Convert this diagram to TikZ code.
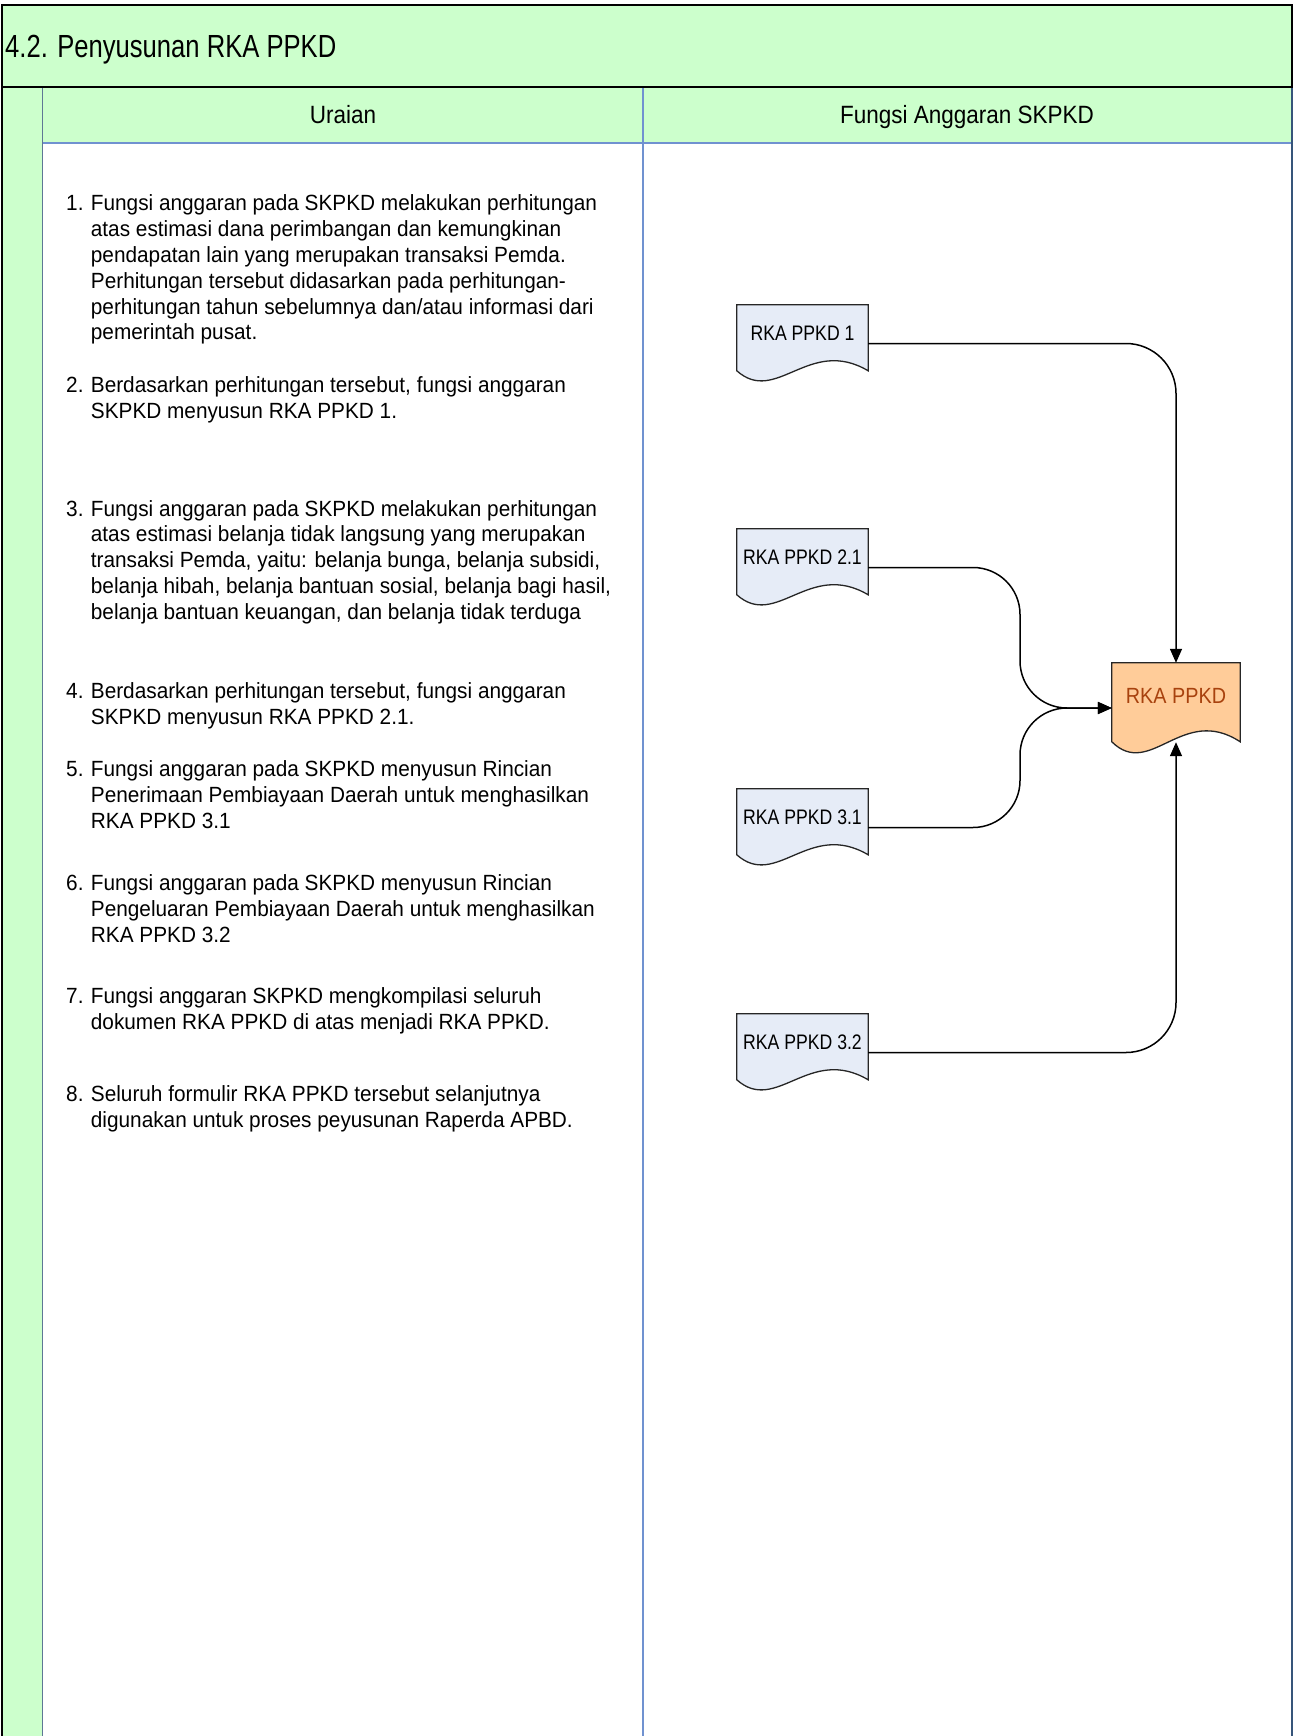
\documentclass[tikz,border=0pt]{standalone}
\usepackage{fontspec}
\setmainfont{Liberation Sans}
\newfontfamily\titlefont[FakeStretch=0.8]{Liberation Sans}
\newfontfamily\headfont[FakeStretch=0.9]{Liberation Sans}
\newfontfamily\bodyfont[FakeStretch=0.945]{Liberation Sans}
\newfontfamily\docfont[FakeStretch=0.84]{Liberation Sans}
\newfontfamily\outfont[FakeStretch=0.9]{Liberation Sans}
\usetikzlibrary{arrows.meta,calc}
\definecolor{lanegreen}{HTML}{CCFFCC}
\definecolor{docblue}{HTML}{E6ECF7}
\definecolor{docorange}{HTML}{FFCC99}
\definecolor{orangetext}{HTML}{A8420E}
\definecolor{laneblue}{HTML}{7092D0}
\definecolor{lanedark}{HTML}{36557A}
\pgfdeclarelayer{bg}
\pgfdeclarelayer{docs}
\pgfsetlayers{bg,docs,main}
\newcommand\drawdoc[4]{%
  \begin{pgfonlayer}{docs}
  \path[draw=black!85, line width=1.3pt, fill=#2]
    (#1.north west) -- (#1.north east) -- ($(#1.north east)+(0pt,-#3)$)
    .. controls ($(#1.north west)!0.55!(#1.north east)+(0pt,-#3)+(0pt,#4)$)
    and ($(#1.north west)!0.3!(#1.north east)+(0pt,-#3)+(0pt,-#4)$)
    .. ($(#1.north west)+(0pt,-#3)$) -- cycle;
  \end{pgfonlayer}}
\tikzset{
  docnode/.style={rectangle, inner sep=0pt, minimum width=131pt, minimum height=77pt,
    font=\docfont\fontsize{21}{24}\selectfont, text height=15pt, text depth=22pt},
  outnode/.style={rectangle, inner sep=0pt, minimum width=128pt, minimum height=90pt,
    font=\outfont\fontsize{22}{25}\selectfont, text=orangetext, text height=15.75pt, text depth=24pt},
  itemnode/.style={anchor=base west, inner sep=0pt, align=left,
    font=\bodyfont\fontsize{22}{25.9}\selectfont},
  headnode/.style={anchor=base, inner sep=0pt, font=\headfont\fontsize{25}{28}\selectfont},
  conn/.style={draw=black, line width=1.5pt, -{Triangle[length=14pt,width=12pt]}}
}
\newcommand\itemtext[2]{\makebox[24.7pt][l]{#1}\parbox[t]{560pt}{#2}}
\begin{document}
\begin{tikzpicture}[x=1pt,y=-1pt]
\useasboundingbox (0,0) rectangle (1293,1736);
\begin{pgfonlayer}{bg}
  \fill[white] (0,0) rectangle (1293,1736);
  \fill[lanegreen] (1.5,87) rectangle (42.5,1745);
  \fill[lanegreen] (42.5,87) rectangle (1291.5,143);
  \draw[laneblue, line width=1.2pt] (42.5,143) -- (1291.5,143);
  \draw[laneblue, line width=1.5pt] (643,87) -- (643,1745);
  \draw[lanedark!80, line width=1.5pt] (42.5,87) -- (42.5,1745);
  \draw[lanedark, line width=2pt] (1291.5,87) -- (1291.5,1745);
  \draw[black, line width=2pt] (1.5,87) -- (1.5,1745);
  \filldraw[fill=lanegreen, draw=black, line width=2pt] (1.5,5) rectangle (1291.5,87);
\end{pgfonlayer}

\node[anchor=base west, inner sep=0pt, font=\titlefont\fontsize{32}{36}\selectfont] (title) at (5,58) {4.2. Penyusunan RKA PPKD};
\node[headnode] (h1) at (343,124) {Uraian};
\node[headnode] (h2) at (967,124) {Fungsi Anggaran SKPKD};

\node[itemnode] (i1) at (66,210.5) {\itemtext{1.}{Fungsi anggaran pada SKPKD melakukan perhitungan\\atas estimasi dana perimbangan dan kemungkinan\\pendapatan lain yang merupakan transaksi Pemda.\\Perhitungan tersebut didasarkan pada perhitungan-\\perhitungan tahun sebelumnya dan/atau informasi dari\\pemerintah pusat.}};
\node[itemnode] (i2) at (66,392.5) {\itemtext{2.}{Berdasarkan perhitungan tersebut, fungsi anggaran\\SKPKD menyusun RKA PPKD 1.}};
\node[itemnode] (i3) at (66,516) {\itemtext{3.}{Fungsi anggaran pada SKPKD melakukan perhitungan\\atas estimasi belanja tidak langsung yang merupakan\\transaksi Pemda, yaitu: belanja bunga, belanja subsidi,\\belanja hibah, belanja bantuan sosial, belanja bagi hasil,\\belanja bantuan keuangan, dan belanja tidak terduga}};
\node[itemnode] (i4) at (66,698.5) {\itemtext{4.}{Berdasarkan perhitungan tersebut, fungsi anggaran\\SKPKD menyusun RKA PPKD 2.1.}};
\node[itemnode] (i5) at (66,776.5) {\itemtext{5.}{Fungsi anggaran pada SKPKD menyusun Rincian\\Penerimaan Pembiayaan Daerah untuk menghasilkan\\RKA PPKD 3.1}};
\node[itemnode] (i6) at (66,890.5) {\itemtext{6.}{Fungsi anggaran pada SKPKD menyusun Rincian\\Pengeluaran Pembiayaan Daerah untuk menghasilkan\\RKA PPKD 3.2}};
\node[itemnode] (i7) at (66,1003.5) {\itemtext{7.}{Fungsi anggaran SKPKD mengkompilasi seluruh\\dokumen RKA PPKD di atas menjadi RKA PPKD.}};
\node[itemnode] (i8) at (66,1101.5) {\itemtext{8.}{Seluruh formulir RKA PPKD tersebut selanjutnya\\digunakan untuk proses peyusunan Raperda APBD.}};

\node[docnode] (d1) at (802.5,343.5) {RKA PPKD 1};
\node[docnode] (d21) at (802.5,567.5) {RKA PPKD 2.1};
\node[docnode] (d31) at (802.5,827.5) {RKA PPKD 3.1};
\node[docnode] (d32) at (802.5,1052.5) {RKA PPKD 3.2};
\node[outnode] (rka) at (1176,708) {RKA PPKD};
\drawdoc{d1}{docblue}{66pt}{35pt}
\drawdoc{d21}{docblue}{66pt}{35pt}
\drawdoc{d31}{docblue}{66pt}{35pt}
\drawdoc{d32}{docblue}{66pt}{35pt}
\drawdoc{rka}{docorange}{79pt}{38pt}

\coordinate (mx) at (1020,0);
\coordinate (rkab) at ($(rka.south)+(0pt,11pt)$);
\draw[conn, rounded corners=50pt] (d1.east) -| (rka.north);
\draw[conn, rounded corners=47pt] (d21.east) -| (mx |- rka.west) -- (rka.west);
\draw[conn, rounded corners=47pt] (d31.east) -| (mx |- rka.west) -- (rka.west);
\draw[conn, rounded corners=50pt] (d32.east) -| (rkab);
\end{tikzpicture}
\end{document}
